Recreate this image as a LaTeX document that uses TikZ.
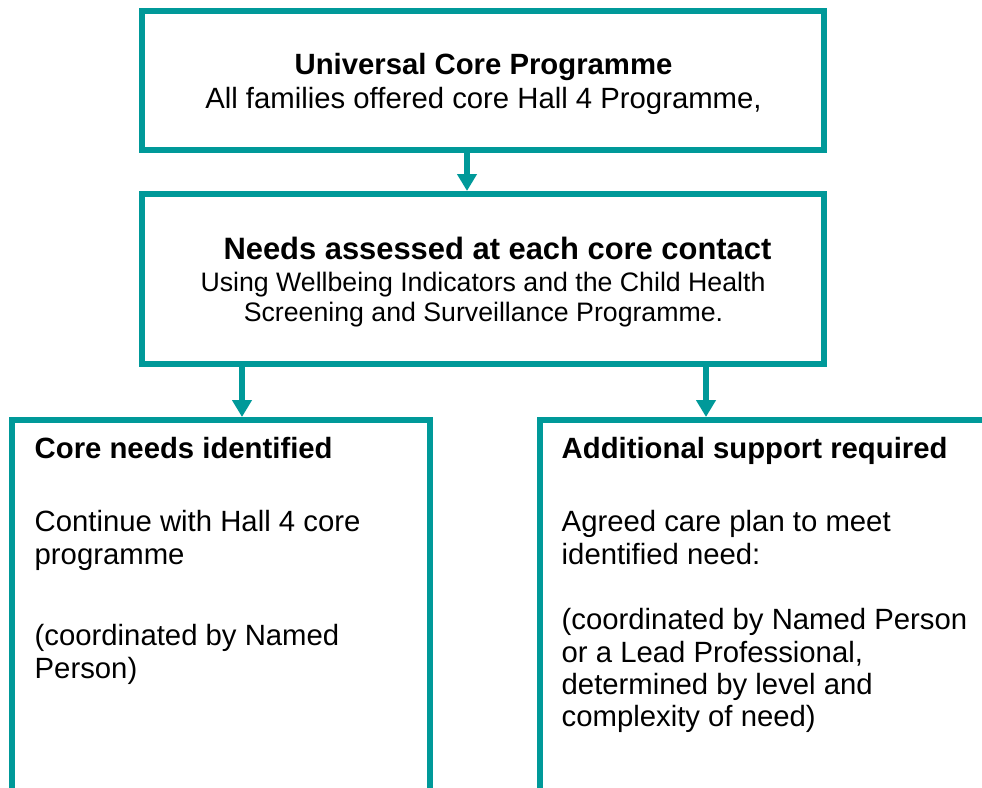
\documentclass[tikz,border=0pt]{standalone}
\usepackage{fontspec}
\setmainfont{Liberation Sans}
\usetikzlibrary{arrows.meta}
\definecolor{teal1}{RGB}{0,153,153}
\tikzset{
  box/.style={draw=teal1, line width=6pt, rectangle, inner sep=0pt},
  arr/.style={draw=teal1, line width=6pt, -{Triangle[width=19pt,length=17pt]}},
  big/.style={inner sep=0pt, font=\fontsize{29.3}{33}\selectfont},
  bigb/.style={inner sep=0pt, font=\fontsize{29.3}{33}\selectfont\bfseries},
  midb/.style={inner sep=0pt, font=\fontsize{30.9}{35}\selectfont\bfseries},
  small/.style={inner sep=0pt, font=\fontsize{26.7}{30}\selectfont},
}
\begin{document}
\begin{tikzpicture}[x=1pt,y=-1pt]
\useasboundingbox (0,0) rectangle (982,787);
\clip (0,0) rectangle (982,787);
\node[box, minimum width=682pt, minimum height=139pt] (top) at (483,80.5) {};
\node[box, minimum width=682pt, minimum height=170pt] (mid) at (483,279) {};
\node[box, minimum width=418pt, minimum height=380pt] (bl) at (221,610) {};
\node[box, minimum width=460pt, minimum height=380pt] (br) at (770,610) {};
\coordinate (c1) at (467,0);
\coordinate (c2) at (242,0);
\coordinate (c3) at (706,0);
\draw[arr] (top.south -| c1) -- (mid.north -| c1);
\draw[arr] (mid.south -| c2) -- (bl.north -| c2);
\draw[arr] (mid.south -| c3) -- (br.north -| c3);
% top box text
\node[bigb, anchor=base] (t1) at (483.5,74.3) {Universal Core Programme};
\node[big, anchor=base] (t2) at (483.5,108.3) {All families offered core Hall 4 Programme,};
% middle box text
\node[midb, anchor=base] (m1) at (497.5,259.3) {Needs assessed at each core contact};
\node[small, anchor=base] (m2) at (483,291) {Using Wellbeing Indicators and the Child Health};
\node[small, anchor=base] (m3) at (483.5,321) {Screening and Surveillance Programme.};
% bottom left text
\node[bigb, anchor=base west] (l1) at (34.5,458.3) {Core needs identified};
\node[big, anchor=base west] (l2) at (34.5,531.7) {Continue with Hall 4 core};
\node[big, anchor=base west] (l3) at (34.5,564.5) {programme};
\node[big, anchor=base west] (l4) at (34.5,645) {(coordinated by Named};
\node[big, anchor=base west] (l5) at (34.5,678.3) {Person)};
% bottom right text
\node[bigb, anchor=base west] (r1) at (561.5,458.3) {Additional support required};
\node[big, anchor=base west] (r2) at (561.5,531.7) {Agreed care plan to meet};
\node[big, anchor=base west] (r3) at (561.5,564.5) {identified need:};
\node[big, anchor=base west] (r4) at (561.5,629.3) {(coordinated by Named Person};
\node[big, anchor=base west] (r5) at (561.5,662.7) {or a Lead Professional,};
\node[big, anchor=base west] (r6) at (561.5,694.3) {determined by level and};
\node[big, anchor=base west] (r7) at (561.5,726) {complexity of need)};
\end{tikzpicture}
\end{document}
